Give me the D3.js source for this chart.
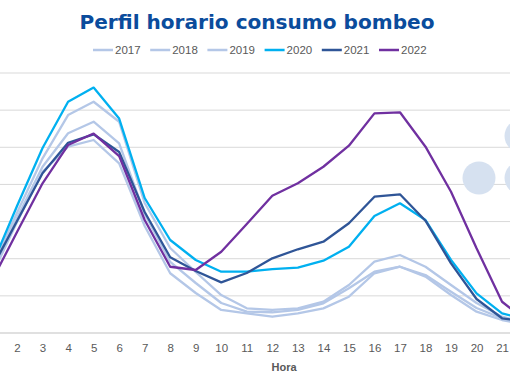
<!DOCTYPE html>
<html><head><meta charset="utf-8">
<script src="https://cdn.jsdelivr.net/npm/d3@7"></script>
<style>body{margin:0;background:#fff}svg{display:block}</style>
</head><body>
<svg id="c" width="510" height="382"></svg>
<script>
const hours = [1,2,3,4,5,6,7,8,9,10,11,12,13,14,15,16,17,18,19,20,21,22];
const tickLabels = [2,3,4,5,6,7,8,9,10,11,12,13,14,15,16,17,18,19,20,21];
const yTicks = [0,500,1000,1500,2000,2500,3000,3500];
const years = ["2017","2018","2019","2020","2021","2022"];
const colors = ["#b4c7e7","#b4c7e7","#b4c7e7","#00b0f0","#2f5597","#7030a0"];
const s2017 = [767,1494,2171,2508,2598,2284,1440,804,538,310,265,219,265,332,489,804,892,758,511,287,175,108];
const s2018 = [821,1548,2238,2688,2844,2553,1602,956,673,404,287,279,310,400,602,825,892,781,556,337,198,121];
const s2019 = [867,1618,2351,2934,3113,2844,1750,1144,821,511,332,310,332,421,646,960,1050,892,646,404,219,135];
const s2020 = [900,1710,2490,3113,3304,2887,1817,1252,983,825,825,861,879,973,1162,1575,1746,1521,983,534,265,175];
const s2021 = [861,1508,2150,2561,2675,2436,1629,1019,835,682,808,1005,1127,1229,1477,1835,1867,1512,938,458,198,148];
const s2022 = [693,1359,2015,2530,2685,2382,1521,892,848,1094,1467,1848,2015,2238,2521,2957,2971,2508,1902,1140,421,148];
const seriesList = [s2017,s2018,s2019,s2020,s2021,s2022];
const title = "Perfil horario consumo bombeo";
const xTitle = "Hora";

const svg = d3.select("#c");
const x = d3.scaleLinear().domain([1,22]).range([-8.5,527.6]);
const y = d3.scaleLinear().domain([0,3500]).range([333,73]);

// gridlines
svg.append("g").selectAll("line").data(yTicks.slice(1)).join("line")
  .attr("x1",0).attr("x2",510).attr("y1",d=>y(d)).attr("y2",d=>y(d))
  .attr("stroke","#d9d9d9").attr("stroke-width",1);

// x axis
const xAxis = d3.axisBottom(x).tickValues(tickLabels).tickSize(0).tickPadding(11).tickFormat(d=>d);
const gx = svg.append("g").attr("transform",`translate(0,${y(0)})`).call(xAxis);
gx.select(".domain").remove();
gx.selectAll("text").attr("fill","#595959").style("font-family","Liberation Sans, Arial, sans-serif").style("font-size","11.5px");
svg.append("line").attr("x1",0).attr("x2",510).attr("y1",y(0)).attr("y2",y(0)).attr("stroke","#e0e0e0").attr("stroke-width",2);

// decorative circles (logo)
const deco = [[479,178,16.5],[521,178,16.5],[521,136,16.5]];
svg.append("g").selectAll("circle").data(deco).join("circle")
  .attr("cx",d=>d[0]).attr("cy",d=>d[1]).attr("r",d=>d[2]).attr("fill","#d6e1f0");

// lines
const line = d3.line().x((d,i)=>x(hours[i])).y(d=>y(d));
svg.append("g").selectAll("path").data(seriesList).join("path")
  .attr("d",line).attr("fill","none").attr("stroke",(d,i)=>colors[i])
  .attr("stroke-width",2.3).attr("stroke-linejoin","round");

// title
const t = svg.append("text").attr("x",257).attr("y",28.5).attr("text-anchor","middle")
  .attr("fill","#0b4c9c").style("font-family","DejaVu Sans, Verdana, sans-serif")
  .style("font-weight","bold").style("font-size","21px").text(title);
const w = t.node().getComputedTextLength();
t.style("font-size",(21*355/w).toFixed(2)+"px");

// legend
const lg = svg.append("g").selectAll("g").data(years).join("g")
  .attr("transform",(d,i)=>`translate(${93+i*57.2},50)`);
lg.append("line").attr("x1",0).attr("x2",20).attr("y1",0).attr("y2",0)
  .attr("stroke",(d,i)=>colors[i]).attr("stroke-width",2.5);
lg.append("text").attr("x",22).attr("y",4).attr("fill","#595959")
  .style("font-family","Liberation Sans, Arial, sans-serif").style("font-size","11.5px").text(d=>d);

// x title
svg.append("text").attr("x",284).attr("y",371).attr("text-anchor","middle")
  .attr("fill","#595959").style("font-family","Liberation Sans, Arial, sans-serif")
  .style("font-weight","bold").style("font-size","11px").text(xTitle);
</script>
</body></html>
